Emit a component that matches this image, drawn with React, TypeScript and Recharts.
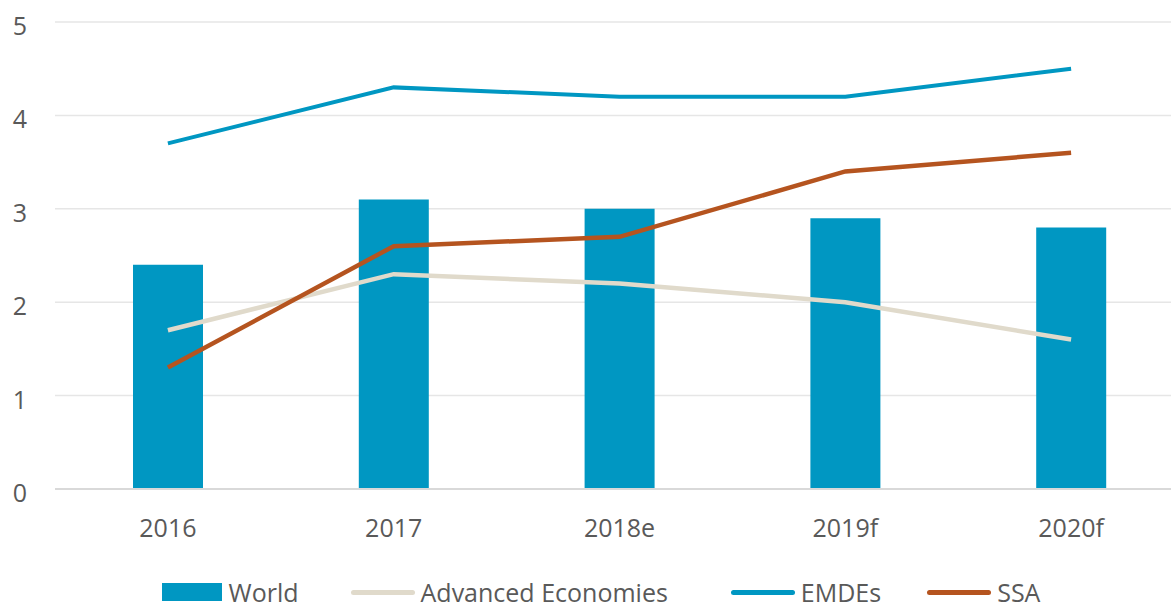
import { Bar, CartesianGrid, ComposedChart, Legend, Line, XAxis, YAxis } from "recharts";

const years = ["2016", "2017", "2018e", "2019f", "2020f"];
const world = [2.4, 3.1, 3.0, 2.9, 2.8];
const advanced = [1.7, 2.3, 2.2, 2.0, 1.6];
const emdes = [3.7, 4.3, 4.2, 4.2, 4.5];
const ssa = [1.3, 2.6, 2.7, 3.4, 3.6];
const yTicks = [0, 1, 2, 3, 4, 5];

const BLUE = "#0097c2";
const BEIGE = "#e0dacb";
const RUST = "#b5541f";
const TEXT = "#595959";
const FONT = "'Open Sans', sans-serif";

const data = years.map((year, i) => ({
  year,
  world: world[i],
  advanced: advanced[i],
  emdes: emdes[i],
  ssa: ssa[i]
}));

const legendItems = [
  { label: "World", color: BLUE, kind: "rect", gap: 52 },
  { label: "Advanced Economies", color: BEIGE, kind: "line", gap: 63 },
  { label: "EMDEs", color: BLUE, kind: "line", gap: 46 },
  { label: "SSA", color: RUST, kind: "line", gap: 0 }
];

function YTick({ y, payload }: any) {
  return (
    <text x={20} y={y} dy={13} textAnchor="middle" fill={TEXT} fontSize={25} fontFamily={FONT}>
      {payload.value}
    </text>
  );
}

function ChartLegend() {
  return (
    <div style={{ height: 40, display: "flex", justifyContent: "center", alignItems: "flex-start", fontFamily: FONT, fontSize: 25, color: TEXT, paddingLeft: 18 }}>
      {legendItems.map((item) => (
        <div key={item.label} style={{ display: "flex", alignItems: "center", height: 24, lineHeight: "24px", marginRight: item.gap, marginTop: -10 }}>
          {item.kind === "rect" ? (
            <span style={{ display: "inline-block", width: 60, height: 18, background: item.color, marginRight: 7 }} />
          ) : (
            <span style={{ display: "inline-block", width: 64, height: 5, borderRadius: 3, background: item.color, marginRight: 6 }} />
          )}
          <span>{item.label}</span>
        </div>
      ))}
    </div>
  );
}

export default function App() {
  return (
    <div style={{ position: "fixed", left: 0, top: 0, width: 1171, height: 613, overflow: "hidden", background: "#fff" }}>
      <ComposedChart width={1184} height={630} data={data} margin={{ top: 22, right: 0, bottom: 0, left: 0 }}>
        <CartesianGrid vertical={false} stroke="#e6e6e6" strokeWidth={1.5} />
        <XAxis
          dataKey="year"
          height={101}
          tickSize={0}
          tickMargin={30}
          axisLine={{ stroke: "#d9d9d9", strokeWidth: 2 }}
          tick={{ fill: TEXT, fontSize: 25, fontFamily: FONT }}
        />
        <YAxis width={55} domain={[0, 5]} ticks={yTicks} axisLine={false} tickLine={false} tick={<YTick />} />
        <Legend verticalAlign="bottom" content={<ChartLegend />} />
        <Bar dataKey="world" name="World" fill={BLUE} barSize={70} isAnimationActive={false} />
        <Line dataKey="advanced" name="Advanced Economies" stroke={BEIGE} strokeWidth={4.5} dot={false} isAnimationActive={false} />
        <Line dataKey="emdes" name="EMDEs" stroke={BLUE} strokeWidth={4} dot={false} isAnimationActive={false} />
        <Line dataKey="ssa" name="SSA" stroke={RUST} strokeWidth={4.5} dot={false} isAnimationActive={false} />
      </ComposedChart>
    </div>
  );
}
